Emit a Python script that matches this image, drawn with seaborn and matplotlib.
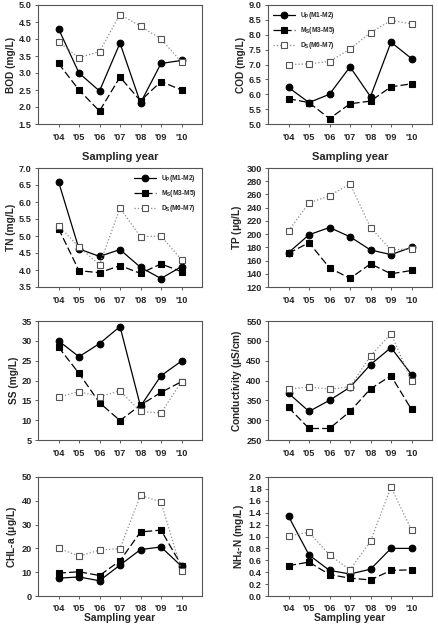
import numpy as np
import pandas as pd
import seaborn as sns
import matplotlib.pyplot as plt

years = ["'04", "'05", "'06", "'07", "'08", "'09", "'10"]
sites = [r"U$_\mathregular{P}$(M1-M2)", r"M$_\mathregular{S}$(M3-M5)", r"D$_\mathregular{S}$(M6-M7)"]

bod_up = [4.30, 3.00, 2.47, 3.88, 2.12, 3.28, 3.37]
bod_ms = [3.28, 2.50, 1.88, 2.88, 2.18, 2.75, 2.50]
bod_ds = [3.92, 3.45, 3.63, 4.72, 4.38, 4.00, 3.32]

cod_up = [6.23, 5.72, 6.00, 6.92, 5.92, 7.75, 7.20]
cod_ms = [5.85, 5.72, 5.18, 5.68, 5.77, 6.25, 6.35]
cod_ds = [7.00, 7.02, 7.10, 7.52, 8.07, 8.48, 8.37]

tn_up = [6.60, 4.62, 4.40, 4.60, 4.08, 3.75, 4.10]
tn_ms = [5.22, 3.98, 3.92, 4.13, 3.90, 4.18, 3.95]
tn_ds = [5.30, 4.68, 4.15, 5.82, 4.98, 5.00, 4.30]

tp_up = [172, 199, 210, 196, 176, 169, 180]
tp_ms = [171, 187, 149, 133, 155, 140, 145]
tp_ds = [205, 247, 258, 276, 210, 176, 178]

ss_up = [30.0, 26.0, 29.3, 33.6, 13.5, 21.2, 24.9]
ss_ms = [28.4, 21.8, 14.4, 9.9, 13.8, 17.0, 19.7]
ss_ds = [15.8, 17.2, 15.9, 17.4, 12.2, 11.8, 19.7]

cond_up = [368, 322, 350, 383, 440, 483, 415]
cond_ms = [332, 279, 279, 322, 379, 412, 327]
cond_ds = [378, 384, 378, 384, 462, 518, 399]

chl_up = [7.5, 8.0, 6.4, 13.0, 19.5, 20.6, 12.5]
chl_ms = [9.6, 10.2, 8.6, 14.8, 26.9, 27.7, 12.8]
chl_ds = [20.1, 16.7, 19.3, 19.9, 42.3, 39.5, 10.7]

nh4_up = [1.34, 0.69, 0.43, 0.37, 0.45, 0.80, 0.80]
nh4_ms = [0.51, 0.57, 0.36, 0.30, 0.27, 0.43, 0.44]
nh4_ds = [1.01, 1.07, 0.69, 0.44, 0.92, 1.83, 1.11]

panels = [
    ("BOD (mg/L)", [bod_up, bod_ms, bod_ds], (1.5, 5.0), 0.5, "%.1f"),
    ("COD (mg/L)", [cod_up, cod_ms, cod_ds], (5.0, 9.0), 0.5, "%.1f"),
    ("TN (mg/L)", [tn_up, tn_ms, tn_ds], (3.5, 7.0), 0.5, "%.1f"),
    (r"TP ($\mathregular{\mu}$g/L)", [tp_up, tp_ms, tp_ds], (120, 300), 20, "%d"),
    ("SS (mg/L)", [ss_up, ss_ms, ss_ds], (5, 35), 5, "%d"),
    (r"Conductivity ($\mathregular{\mu}$S/cm)", [cond_up, cond_ms, cond_ds], (250, 550), 50, "%d"),
    (r"CHL-a ($\mathregular{\mu}$g/L)", [chl_up, chl_ms, chl_ds], (0, 50), 10, "%d"),
    (r"NH$_\mathregular{4}$-N (mg/L)", [nh4_up, nh4_ms, nh4_ds], (0.0, 2.0), 0.2, "%.1f"),
]

sns.set_style("ticks")
plt.rcParams['font.family'] = ['Liberation Sans', 'DejaVu Sans']
plt.rcParams['font.weight'] = 'bold'
plt.rcParams['mathtext.default'] = 'regular'

styles = [
    dict(color='black', marker='o', linestyle='-', markerfacecolor='black', markeredgecolor='black'),
    dict(color='black', marker='s', linestyle=(0, (6, 2.5)), markerfacecolor='black', markeredgecolor='black'),
    dict(color='#8c8c8c', marker='s', linestyle=':', markerfacecolor='white', markeredgecolor='#555555'),
]

fig = plt.figure(figsize=(4.38, 6.26), dpi=100)
lefts = [38 / 438, 268 / 438]
bottoms = [1 - 124 / 626, 1 - 287 / 626, 1 - 440 / 626, 1 - 596 / 626]
w = 164 / 438
h = 119 / 626

x = np.arange(len(years))
for i, (ylabel, series, ylim, step, fmt) in enumerate(panels):
    r, c = divmod(i, 2)
    ax = fig.add_axes([lefts[c], bottoms[r], w, h])
    for name, vals, st in zip(sites, series, styles):
        df = pd.DataFrame({'x': x, 'y': vals})
        sns.lineplot(data=df, x='x', y='y', ax=ax, label=name, linewidth=0.9,
                     markersize=4.8, markeredgewidth=0.8, **st)
    ax.set_xlim(-1, 7)
    ax.set_ylim(*ylim)
    ax.set_xticks(x)
    ax.set_xticklabels(years)
    yt = np.arange(ylim[0], ylim[1] + step / 2, step)
    ax.set_yticks(yt)
    ax.set_yticklabels([fmt % v for v in yt])
    ax.tick_params(labelsize=6.6, length=2.5, width=0.6, color='#444444', pad=2)
    ax.tick_params(axis='x', pad=4 if r < 3 else 3)
    for s in ax.spines.values():
        s.set_linewidth(0.8)
        s.set_color('#555555')
    ax.set_ylabel(ylabel, fontsize=7.3, fontweight='bold', labelpad=2)
    if r == 0:
        ax.set_xlabel("Sampling year", fontsize=8, fontweight='bold', labelpad=7)
    elif r == 3:
        ax.set_xlabel("Sampling year", fontsize=7.5, fontweight='bold', labelpad=0.5)
    else:
        ax.set_xlabel("")
    if i in (1, 2):
        ax.legend(loc='upper left' if i == 1 else 'upper right', fontsize=4.8, frameon=False,
                  handlelength=3.2, borderaxespad=0.4, labelspacing=0.6)
    else:
        ax.get_legend().remove()

fig.savefig("out.png", dpi=100)
